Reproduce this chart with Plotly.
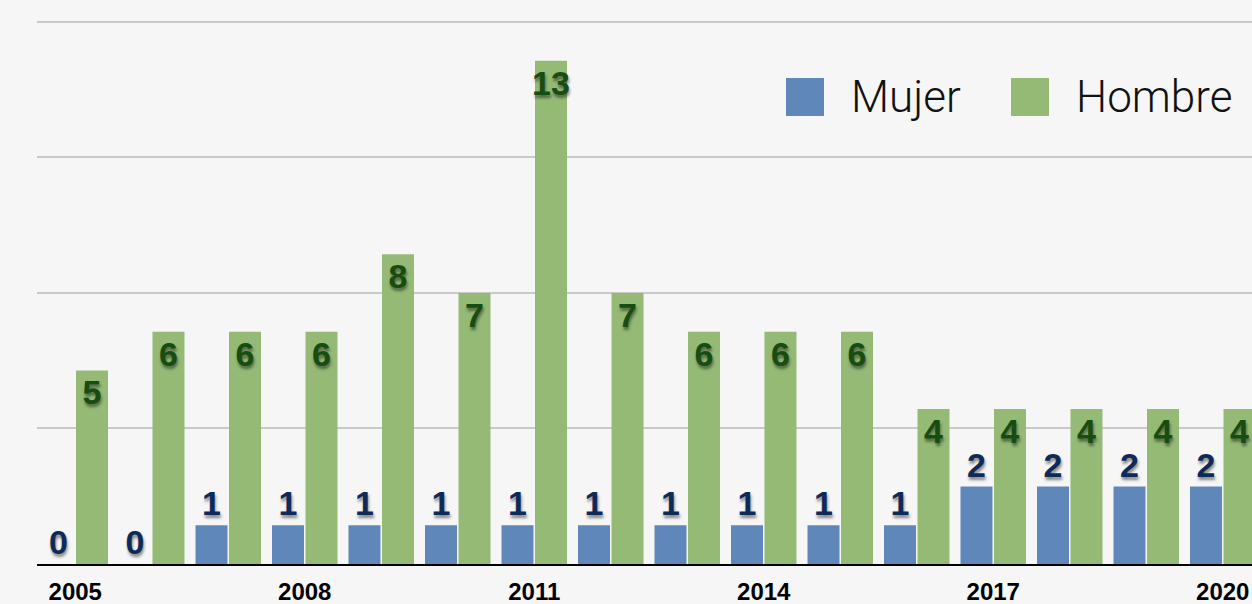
import plotly.graph_objects as go

years = [str(y) for y in range(2005, 2021)]
mujer = [0, 0, 1, 1, 1, 1, 1, 1, 1, 1, 1, 1, 2, 2, 2, 2]
hombre = [5, 6, 6, 6, 8, 7, 13, 7, 6, 6, 6, 4, 4, 4, 4, 4]
tick_years = ["2005", "2008", "2011", "2014", "2017", "2020"]

BLUE = "#5f87b9"
GREEN = "#94ba76"
BG = "#f6f6f6"
shadow = "1px 3px 3px rgba(0,0,0,0.45)"

fig = go.Figure()
fig.add_trace(go.Bar(
    x=years, y=mujer, name="Mujer", marker_color=BLUE, marker_line_width=0,
    text=[str(v) for v in mujer], textposition="outside", cliponaxis=False,
    textfont=dict(family="Liberation Sans, Arial, sans-serif", size=34, color="#0d2a58",
                  weight="bold", shadow=shadow),
    showlegend=False,
))
fig.add_trace(go.Bar(
    x=years, y=hombre, name="Hombre", marker_color=GREEN, marker_line_width=0,
    text=[str(v) for v in hombre], textposition="inside", insidetextanchor="end",
    constraintext="none",
    textfont=dict(family="Liberation Sans, Arial, sans-serif", size=34, color="#174d10",
                  weight="bold", shadow=shadow),
    showlegend=False,
))

W, H = 1252, 604
l, r, t, b = 37, 0, 20, 40
pw, ph = W - l - r, H - t - b

def px_x(p):
    return (p - l) / pw

def px_y(p):
    return (H - b - p) / ph

shapes = []
annotations = []
for x0, x1, col, label, tx in [(786, 824, BLUE, "Mujer", 849), (1011, 1049, GREEN, "Hombre", 1074)]:
    shapes.append(dict(type="rect", xref="paper", yref="paper",
                       x0=px_x(x0), x1=px_x(x1), y0=px_y(116), y1=px_y(78),
                       fillcolor=col, line_width=0))
    annotations.append(dict(xref="paper", yref="paper", x=px_x(tx), y=px_y(97),
                            xanchor="left", yanchor="middle", showarrow=False, text=label,
                            font=dict(family="Helvetica Neue, Roboto, Liberation Sans, sans-serif",
                                      size=44, color="#111111", weight=300)))

fig.update_layout(
    width=W, height=H,
    margin=dict(l=l, r=r, t=t, b=b),
    paper_bgcolor=BG, plot_bgcolor=BG,
    barmode="group", bargap=0.124, bargroupgap=0.045,
    shapes=shapes, annotations=annotations,
    xaxis=dict(type="category", range=[-0.5, -0.5 + pw / 76.5],
               tickmode="array", tickvals=tick_years, ticktext=tick_years,
               showgrid=False, showline=True, linecolor="black", linewidth=2,
               ticks="", tickfont=dict(family="Liberation Sans, Arial, sans-serif",
                                       size=24, color="black", weight="bold"),
               ticklabelstandoff=5),
    yaxis=dict(range=[0, 14.05], dtick=3.5, tick0=0, showticklabels=False,
               showgrid=True, gridcolor="#c9c9c9", gridwidth=2, zeroline=False,
               showline=False, ticks=""),
)

fig.write_html(
    "out.html",
    config={"displayModeBar": False},
    post_script="document.body.style.margin='0';document.body.style.overflow='hidden';"
                "document.body.style.background='#f6f6f6';",
)
